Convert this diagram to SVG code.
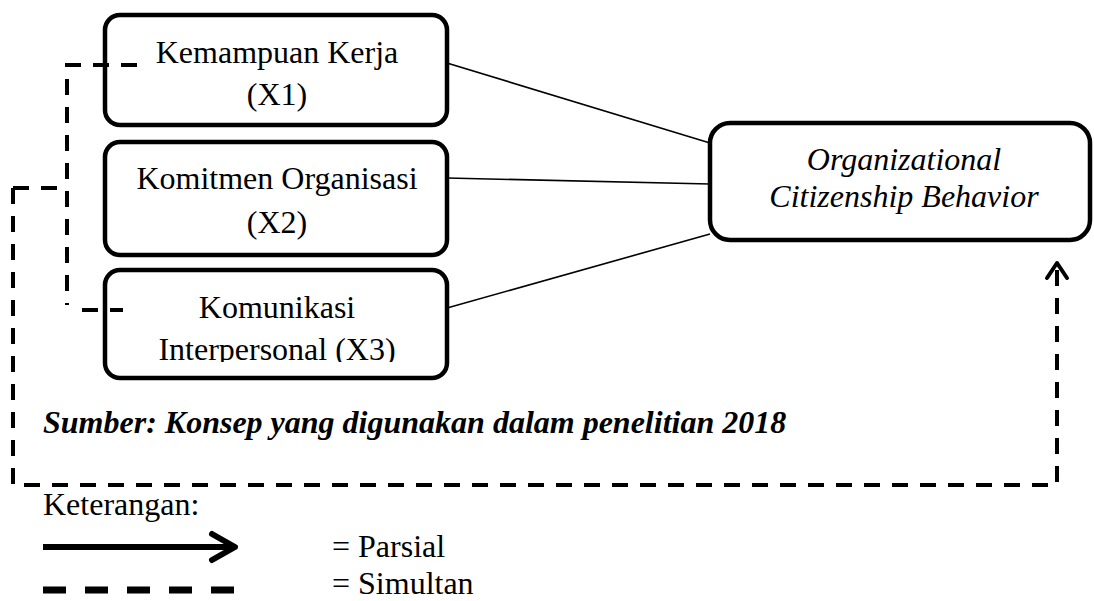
<svg xmlns="http://www.w3.org/2000/svg" width="1094" height="601" viewBox="0 0 1094 601">
<style>
.box{fill:#fff;stroke:#000;stroke-width:4.5}
.t{font-family:"Liberation Serif","Times New Roman",serif;font-size:32px;fill:#000}
.c{text-anchor:middle}
.i{font-style:italic}
.bi{font-style:italic;font-weight:bold}
.solid{fill:none;stroke:#000;stroke-width:1.6}
.dash{fill:none;stroke:#000;stroke-width:4;stroke-dasharray:16 12}
</style>
<defs>
<clipPath id="clipX3"><rect x="105" y="270" width="342" height="92"/></clipPath>
</defs>
<rect width="1094" height="601" fill="#fff"/>
<g id="connectors">
<line class="solid" x1="437" y1="60" x2="710" y2="143"/>
<line class="solid" x1="447" y1="178" x2="710" y2="184"/>
<line class="solid" x1="447" y1="308" x2="710" y2="234"/>
</g>
<g id="node-x1">
<rect class="box" x="105" y="15" width="342" height="110" rx="15"/>
<text class="t c" x="277" y="63">Kemampuan Kerja</text>
<text class="t c" x="277" y="105">(X1)</text>
</g>
<g id="node-x2">
<rect class="box" x="105" y="142" width="342" height="113" rx="15"/>
<text class="t c" x="277" y="189">Komitmen Organisasi</text>
<text class="t c" x="277" y="233">(X2)</text>
</g>
<g id="node-x3">
<rect class="box" x="105" y="270" width="342" height="108" rx="15"/>
<g clip-path="url(#clipX3)">
<text class="t c" x="277" y="318">Komunikasi</text>
<text class="t c" x="277" y="360">Interpersonal (X3)</text>
</g>
</g>
<g id="node-ocb">
<rect class="box" x="710" y="123" width="380" height="117" rx="20"/>
<text class="t c i" x="904" y="170">Organizational</text>
<text class="t c i" x="904" y="207">Citizenship Behavior</text>
</g>
<g id="simultan-connectors">
<path class="dash" d="M137,65 H67 V305"/>
<path class="dash" d="M82,310 H123"/>
<path class="dash" d="M13,188 H67"/>
<path class="dash" d="M13,188 V485 H1057 V266"/>
<polyline points="1047,278 1057,263 1067,278" fill="none" stroke="#000" stroke-width="4" stroke-linecap="round" stroke-linejoin="round"/>
</g>
<g id="caption">
<text class="t bi" x="43" y="433">Sumber: Konsep yang digunakan dalam penelitian 2018</text>
</g>
<g id="legend">
<text class="t" x="43" y="515">Keterangan:</text>
<line x1="43" y1="547" x2="232" y2="547" stroke="#000" stroke-width="6"/>
<polyline points="212,534 235,547 212,560" fill="none" stroke="#000" stroke-width="6" stroke-linecap="round" stroke-linejoin="round"/>
<text class="t" x="332" y="557">= Parsial</text>
<line x1="43" y1="590" x2="236" y2="590" stroke="#000" stroke-width="7" stroke-dasharray="23 19"/>
<text class="t" x="332" y="594">= Simultan</text>
</g>
</svg>
